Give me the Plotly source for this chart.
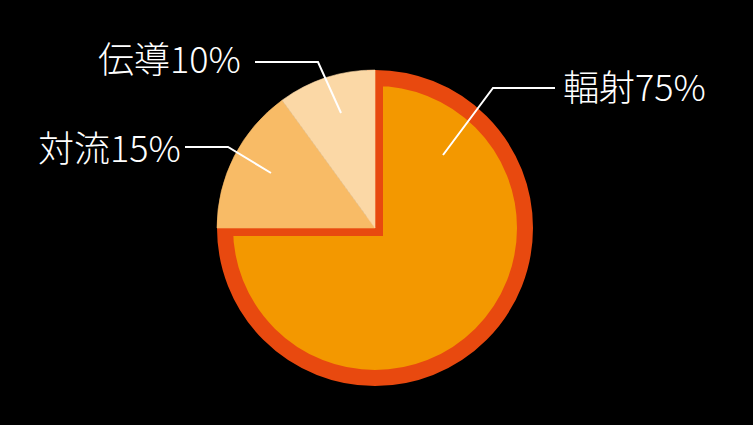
import plotly.graph_objects as go

# data
labels = ["輻射", "対流", "伝導"]
values = [75, 15, 10]
colors = ["#F39800", "#F8BB66", "#FBD8A6"]
edge_color = "#E8490F"

W, H = 753, 425
cx, cy, R = 375, 228, 158
border = 8

def dom(r):
    return dict(x=[(cx - r) / W, (cx + r) / W],
                y=[1 - (cy + r) / H, 1 - (cy - r) / H])

clear = "rgba(0,0,0,0)"

fig = go.Figure()

# main slice, drawn smaller with a wide outline so the border sits inside
fig.add_trace(go.Pie(
    labels=labels, values=values, sort=False, direction="clockwise", rotation=0,
    marker=dict(colors=[colors[0], clear, clear],
                line=dict(color=edge_color, width=[border * 2, 0, 0])),
    textinfo="none", hoverinfo="skip", showlegend=False,
    domain=dom(R - border),
))
# the two small slices at full radius
fig.add_trace(go.Pie(
    labels=labels, values=values, sort=False, direction="clockwise", rotation=0,
    marker=dict(colors=[clear, colors[1], colors[2]],
                line=dict(color=[clear, colors[1], colors[2]], width=[0, 0.6, 0.6])),
    textinfo="none", hoverinfo="skip", showlegend=False,
    domain=dom(R),
))

# leader lines (pixel coords), as shapes so they sit above the pie
leaders = [
    ([443, 493, 555], [155, 88, 88]),
    ([271, 228, 185], [173, 147, 147]),
    ([341, 318, 255], [113, 62, 62]),
]
for xs, ys in leaders:
    path = "M " + " L ".join(f"{x},{y}" for x, y in zip(xs, ys))
    fig.add_shape(type="path", path=path, xref="x", yref="y", layer="above",
                  line=dict(color="white", width=2))

font = dict(family="Noto Sans CJK JP", size=36, color="white", weight=300)
texts = [(f"{labels[0]}{values[0]}%", 561, 85, "left"),
         (f"{labels[1]}{values[1]}%", 183, 146, "right"),
         (f"{labels[2]}{values[2]}%", 243, 57, "right")]
for t, x, y, anc in texts:
    fig.add_annotation(x=x, y=y, text=t, showarrow=False, xanchor=anc,
                       yanchor="middle", font=font)

fig.update_layout(
    width=W, height=H, margin=dict(l=0, r=0, t=0, b=0),
    paper_bgcolor="black", plot_bgcolor="black",
    xaxis=dict(range=[0, W], visible=False, fixedrange=True),
    yaxis=dict(range=[H, 0], visible=False, fixedrange=True),
)

fig.write_html("out.html", config={"displayModeBar": False},
               post_script="document.body.style.margin='0';"
                           "document.body.style.background='black';"
                           "document.querySelectorAll('.slice path')"
                           ".forEach(function(p){p.style.strokeLinejoin='miter';});")
